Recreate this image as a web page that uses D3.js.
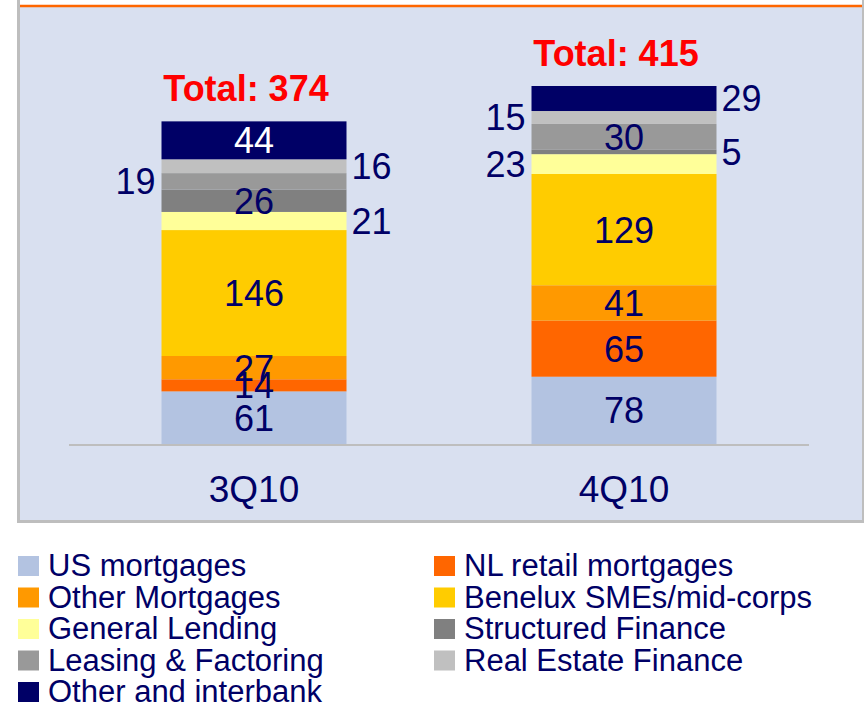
<!DOCTYPE html>
<html>
<head>
<meta charset="utf-8">
<script src="https://cdn.jsdelivr.net/npm/d3@7"></script>
<style>
  body { margin: 0; background: #fff; }
  svg { display: block; font-family: "Liberation Sans", Arial, sans-serif; }
</style>
</head>
<body>
<svg id="chart" width="864" height="704"></svg>
<script>
const quarters = ["3Q10", "4Q10"];
const seriesNames = [
  "US mortgages",
  "NL retail mortgages",
  "Other Mortgages",
  "Benelux SMEs/mid-corps",
  "General Lending",
  "Structured Finance",
  "Leasing & Factoring",
  "Real Estate Finance",
  "Other and interbank",
];
const values3Q10 = [61, 14, 27, 146, 21, 26, 19, 16, 44];
const values4Q10 = [78, 65, 41, 129, 23, 5, 30, 15, 29];
const totals = [374, 415];
// where each value label sits: inside the bar or beside it
const side3Q10 = ["in", "in", "in", "in", "right", "in", "left", "right", "in"];
const side4Q10 = ["in", "in", "in", "in", "left", "right", "in", "left", "right"];
const seriesColors = [
  "#B3C3E1", "#FF6600", "#FF9900", "#FFCC00", "#FFFF99",
  "#808080", "#999999", "#C0C0C0", "#000066",
];

const navy = "#000066";
const chart = d3.select("#chart");

// panel
chart.append("rect")
  .attr("x", 18.5).attr("y", -10)
  .attr("width", 845).attr("height", 531.5)
  .attr("fill", "#D9E0F0")
  .attr("stroke", "#BEBEBE")
  .attr("stroke-width", 3);
chart.append("rect")
  .attr("x", 20).attr("y", 0)
  .attr("width", 842).attr("height", 5)
  .attr("fill", "#fff");
chart.append("line")
  .attr("x1", 20).attr("x2", 862)
  .attr("y1", 6).attr("y2", 6)
  .attr("stroke", "#FF6600")
  .attr("stroke-width", 2.5);

const rows = quarters.map((q, i) => {
  const vals = i === 0 ? values3Q10 : values4Q10;
  const row = { quarter: q };
  seriesNames.forEach((s, j) => (row[s] = vals[j]));
  return row;
});
const sides = [side3Q10, side4Q10];

const x = d3.scaleBand()
  .domain(quarters)
  .range([69, 809])
  .paddingInner(0.5)
  .paddingOuter(0.25);

const y = d3.scaleLinear().domain([0, 415]).range([444, 86]);

const stacked = d3.stack().keys(seriesNames)(rows);

const layers = chart.append("g")
  .selectAll("g")
  .data(stacked)
  .join("g")
  .attr("fill", (d, i) => seriesColors[i]);

layers.selectAll("rect")
  .data((d) => d)
  .join("rect")
  .attr("x", (d) => x(d.data.quarter))
  .attr("y", (d) => y(d[1]))
  .attr("width", x.bandwidth())
  .attr("height", (d) => y(d[0]) - y(d[1]));

// baseline
chart.append("line")
  .attr("x1", 69).attr("x2", 809)
  .attr("y1", 445).attr("y2", 445)
  .attr("stroke", "#BEBEBE")
  .attr("stroke-width", 2);

// value labels
const labelFont = 36;
stacked.forEach((layer, si) => {
  layer.forEach((d, qi) => {
    const side = sides[qi][si];
    const xl = x(d.data.quarter);
    let tx = xl + x.bandwidth() / 2;
    let anchor = "middle";
    if (side === "left") { tx = xl - 6; anchor = "end"; }
    if (side === "right") { tx = xl + x.bandwidth() + 5; anchor = "start"; }
    const cy = (y(d[0]) + y(d[1])) / 2;
    chart.append("text")
      .attr("x", tx)
      .attr("y", cy + labelFont * 0.36)
      .attr("text-anchor", anchor)
      .attr("fill", side === "in" && seriesColors[si] === navy ? "#fff" : navy)
      .style("font-size", labelFont + "px")
      .text(d.data[seriesNames[si]]);
  });
});

// totals
quarters.forEach((q, i) => {
  chart.append("text")
    .attr("x", x(q) + x.bandwidth() / 2 - 8)
    .attr("y", y(totals[i]) - 20)
    .attr("text-anchor", "middle")
    .attr("fill", "#FF0000")
    .style("font-size", "36px")
    .style("font-weight", "bold")
    .text(`Total: ${totals[i]}`);
});

// category axis
const xAxis = d3.axisBottom(x).tickSize(0).tickPadding(0);
const ax = chart.append("g").attr("transform", "translate(0, 502)").call(xAxis);
ax.select(".domain").remove();
ax.selectAll("text")
  .attr("dy", 0)
  .attr("fill", navy)
  .style("font-size", "37px")
  .style("font-family", "'Liberation Sans', Arial, sans-serif");

// legend
const legend = chart.append("g")
  .selectAll("g")
  .data(seriesNames)
  .join("g")
  .attr("transform", (d, i) =>
    `translate(${i % 2 === 0 ? 18 : 434}, ${576 + Math.floor(i / 2) * 31.5})`);

legend.append("rect")
  .attr("x", 0).attr("y", -20)
  .attr("width", 21).attr("height", 20)
  .attr("fill", (d, i) => seriesColors[i]);

legend.append("text")
  .attr("x", 30).attr("y", 0)
  .attr("fill", navy)
  .style("font-size", "31px")
  .text((d) => d);
</script>
</body>
</html>
